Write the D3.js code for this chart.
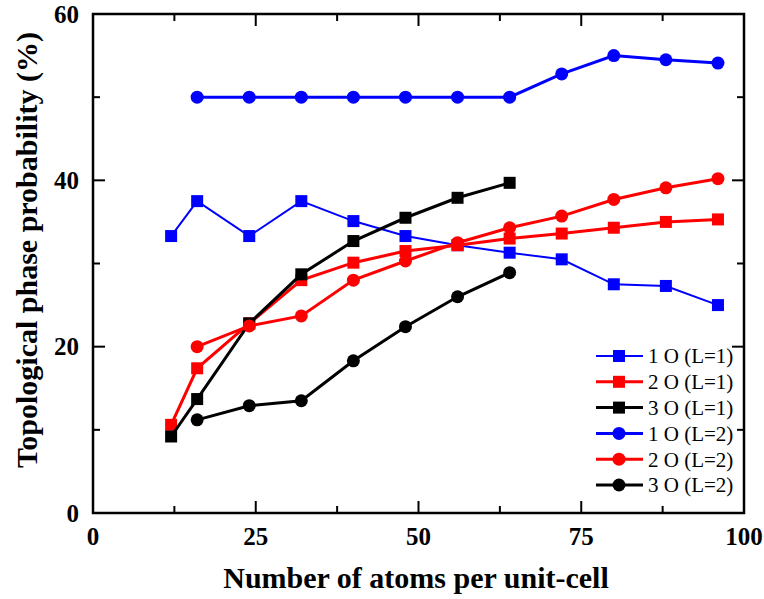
<!DOCTYPE html>
<html>
<head>
<meta charset="utf-8">
<script src="https://cdn.jsdelivr.net/npm/d3@7"></script>
<style>
  body { margin: 0; background: #fff; }
  text { font-family: "Liberation Serif", "Times New Roman", serif; }
</style>
</head>
<body>
<svg width="764" height="599"></svg>
<script>
// atoms per unit-cell
const atoms = [12, 16, 24, 32, 40, 48, 56, 64, 72, 80, 88, 96]

// probability (%) for each series
const o1L1 = [33.3, 37.5, 33.3, 37.5, 35.1, 33.3, 32.2, 31.3, 30.5, 27.5, 27.3, 25.0]
const o2L1 = [10.6, 17.4, 22.8, 28.0, 30.1, 31.5, 32.2, 33.0, 33.6, 34.3, 35.0, 35.3]
const o3L1 = [9.2, 13.7, 22.8, 28.7, 32.7, 35.5, 37.9, 39.7]
const o1L2 = [null, 50, 50, 50, 50, 50, 50, 50, 52.8, 55.0, 54.5, 54.1]
const o2L2 = [null, 20.0, 22.5, 23.7, 28.0, 30.3, 32.5, 34.3, 35.7, 37.7, 39.1, 40.2]
const o3L2 = [null, 11.2, 12.9, 13.5, 18.3, 22.4, 26.0, 28.9]

const seriesNames = ['1 O (L=1)', '2 O (L=1)', '3 O (L=1)', '1 O (L=2)', '2 O (L=2)', '3 O (L=2)']
const xTicks = [0, 25, 50, 75, 100]
const yTicks = [0, 20, 40, 60]

const series = [
  {name: seriesNames[0], values: o1L1, color: '#0000ff', shape: 'square', lw: 2},
  {name: seriesNames[1], values: o2L1, color: '#ff0000', shape: 'square', lw: 3},
  {name: seriesNames[2], values: o3L1, color: '#000000', shape: 'square', lw: 3},
  {name: seriesNames[3], values: o1L2, color: '#0000ff', shape: 'circle', lw: 3},
  {name: seriesNames[4], values: o2L2, color: '#ff0000', shape: 'circle', lw: 3},
  {name: seriesNames[5], values: o3L2, color: '#000000', shape: 'circle', lw: 3}
]

const svg = d3.select('svg')
const margin = {left: 93, right: 20, top: 14, bottom: 86}
const width = +svg.attr('width')
const height = +svg.attr('height')
const innerWidth = width - margin.left - margin.right
const innerHeight = height - margin.top - margin.bottom

const xScale = d3.scaleLinear().domain([0, 100]).range([0, innerWidth])
const yScale = d3.scaleLinear().domain([0, 60]).range([innerHeight, 0])

const g = svg.append('g')
  .attr('transform', `translate(${margin.left}, ${margin.top})`)

// ticks on all four sides, pointing inward
const xMinor = d3.range(0, 100.1, 12.5)
const yMinor = d3.range(0, 60.1, 10)
const major = 12, minor = 7

const tickG = g.append('g').attr('stroke', '#000').attr('stroke-width', 2)
xMinor.forEach(v => {
  const len = v % 25 === 0 ? major : minor
  tickG.append('line').attr('x1', xScale(v)).attr('x2', xScale(v))
    .attr('y1', innerHeight).attr('y2', innerHeight - len)
  tickG.append('line').attr('x1', xScale(v)).attr('x2', xScale(v))
    .attr('y1', 0).attr('y2', len)
})
yMinor.forEach(v => {
  const len = v % 20 === 0 ? major : minor
  tickG.append('line').attr('y1', yScale(v)).attr('y2', yScale(v))
    .attr('x1', 0).attr('x2', len)
  tickG.append('line').attr('y1', yScale(v)).attr('y2', yScale(v))
    .attr('x1', innerWidth).attr('x2', innerWidth - len)
})

g.append('rect')
  .attr('width', innerWidth).attr('height', innerHeight)
  .attr('fill', 'none').attr('stroke', '#000').attr('stroke-width', 2.5)

// tick labels
g.selectAll('.xlab').data(xTicks).enter().append('text')
  .attr('x', d => xScale(d)).attr('y', innerHeight + 32)
  .attr('text-anchor', 'middle')
  .attr('font-size', 25).attr('font-weight', 'bold')
  .text(d => d)

g.selectAll('.ylab').data(yTicks).enter().append('text')
  .attr('x', -14).attr('y', d => yScale(d))
  .attr('dy', '0.35em')
  .attr('text-anchor', 'end')
  .attr('font-size', 25).attr('font-weight', 'bold')
  .text(d => d)

// axis titles
svg.append('text')
  .attr('x', 416).attr('y', 588)
  .attr('text-anchor', 'middle')
  .attr('font-size', 30).attr('font-weight', 'bold')
  .text('Number of atoms per unit-cell')

svg.append('text')
  .attr('transform', 'translate(37, 250) rotate(-90)')
  .attr('text-anchor', 'middle')
  .attr('font-size', 30).attr('font-weight', 'bold')
  .text('Topological phase probability (%)')

// lines + markers
const line = d3.line()
  .defined(d => d[1] != null)
  .x(d => xScale(d[0]))
  .y(d => yScale(d[1]))

const drawMarker = (sel, shape, color) => {
  if (shape === 'square') {
    sel.append('rect').attr('x', -6).attr('y', -6).attr('width', 12).attr('height', 12)
      .attr('fill', color)
  } else {
    sel.append('circle').attr('r', 6.5).attr('fill', color)
  }
}

series.forEach(s => {
  const pts = s.values.map((v, i) => [atoms[i], v]).filter(d => d[1] != null)
  g.append('path').datum(pts)
    .attr('d', line)
    .attr('fill', 'none')
    .attr('stroke', s.color)
    .attr('stroke-width', s.lw)
  pts.forEach(p => {
    const m = g.append('g').attr('transform', `translate(${xScale(p[0])}, ${yScale(p[1])})`)
    drawMarker(m, s.shape, s.color)
  })
})

// legend
const legend = svg.append('g').attr('transform', 'translate(596, 356)')
series.forEach((s, i) => {
  const row = legend.append('g').attr('transform', `translate(0, ${i * 25.8})`)
  row.append('line').attr('x1', 0).attr('x2', 47)
    .attr('stroke', s.color).attr('stroke-width', s.lw)
  const m = row.append('g').attr('transform', 'translate(23, 0)')
  drawMarker(m, s.shape, s.color)
  row.append('text').attr('x', 52).attr('dy', '0.35em')
    .attr('font-size', 21)
    .text(s.name)
})
</script>
</body>
</html>
